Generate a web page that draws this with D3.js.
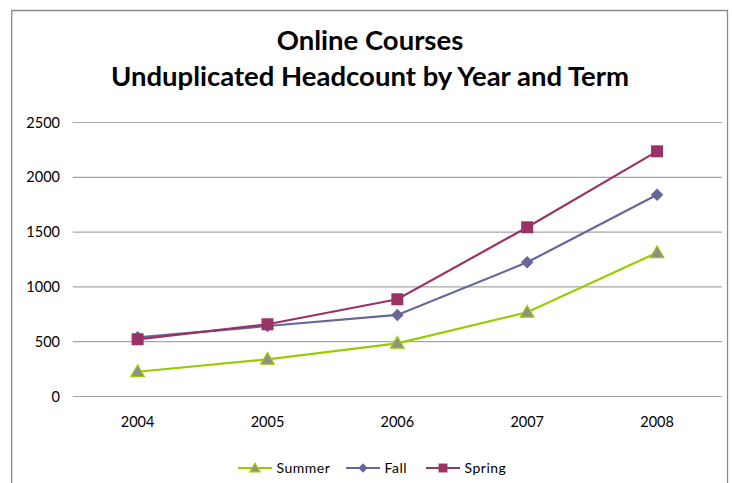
<!DOCTYPE html>
<html>
<head>
<meta charset="utf-8">
<script src="https://cdn.jsdelivr.net/npm/d3@7"></script>
<style>
  body { margin: 0; background: #fff; }
  svg { display: block; font-family: Lato, "Open Sans", sans-serif; }
</style>
</head>
<body>
<div id="chart"></div>
<script>
const years = ["2004", "2005", "2006", "2007", "2008"];
const summer = [226, 339, 485, 768, 1312];
const fall = [540, 643, 744, 1224, 1841];
const spring = [522, 659, 887, 1544, 2237];
const yTicks = [0, 500, 1000, 1500, 2000, 2500];
const titleLines = ["Online Courses", "Unduplicated Headcount by Year and Term"];

const series = [
  {name: "Summer", values: summer, color: "#99cc00", shape: "triangle"},
  {name: "Fall", values: fall, color: "#666699", shape: "diamond"},
  {name: "Spring", values: spring, color: "#993366", shape: "square"}
];

const width = 732, height = 483;
const margin = {top: 122.5, right: 10, bottom: 86.5, left: 72.7};

const svg = d3.select("#chart").append("svg")
    .attr("width", width)
    .attr("height", height);

// frame of the chart area
svg.append("path")
    .attr("fill", "none")
    .attr("stroke", "#8c8c8c")
    .attr("stroke-width", 1.3)
    .attr("d", `M11.7,${height + 2}V10.5H727.5V${height + 2}`);

const x = d3.scalePoint()
    .domain(years)
    .range([margin.left, width - margin.right])
    .padding(0.5);

const y = d3.scaleLinear()
    .domain([0, 2500])
    .range([height - margin.bottom, margin.top]);

// gridlines
svg.append("g")
  .selectAll("line")
  .data(yTicks)
  .join("line")
    .attr("x1", margin.left)
    .attr("x2", width - margin.right)
    .attr("y1", d => y(d))
    .attr("y2", d => y(d))
    .attr("stroke", "#a6a6a6")
    .attr("stroke-width", 1.2);

// y labels
svg.append("g")
  .selectAll("text")
  .data(yTicks)
  .join("text")
    .attr("x", 60)
    .attr("y", d => y(d))
    .attr("dy", "0.35em")
    .attr("text-anchor", "end")
    .attr("font-size", 14.5)
    .attr("fill", "#000")
    .text(d => d);

// x labels
svg.append("g")
  .selectAll("text")
  .data(years)
  .join("text")
    .attr("x", d => x(d))
    .attr("y", 422)
    .attr("dy", "0.35em")
    .attr("text-anchor", "middle")
    .attr("font-size", 14.5)
    .text(d => d);

// title
svg.append("g")
  .selectAll("text")
  .data(titleLines)
  .join("text")
    .attr("x", 370)
    .attr("y", (d, i) => 40 + i * 36)
    .attr("dy", "0.35em")
    .attr("text-anchor", "middle")
    .attr("font-size", 27.5)
    .attr("font-weight", "bold")
    .text(d => d);

const line = d3.line()
    .x((d, i) => x(years[i]))
    .y(d => y(d));

function marker(g, s, k) {
  if (s.shape === "triangle") {
    g.append("path")
        .attr("d", d3.symbol(d3.symbolTriangle, 78 * k)())
        .attr("transform", "translate(0,1)")
        .attr("fill", "#8e8e8e")
        .attr("stroke", s.color)
        .attr("stroke-width", 1.3);
  } else if (s.shape === "diamond") {
    g.append("path")
        .attr("d", d3.symbol(d3.symbolSquare, 78 * k)())
        .attr("transform", "rotate(45)")
        .attr("fill", s.color);
  } else {
    g.append("path")
        .attr("d", d3.symbol(d3.symbolSquare, 144 * k)())
        .attr("fill", s.color);
  }
}

series.forEach(s => {
  svg.append("path")
      .datum(s.values)
      .attr("fill", "none")
      .attr("stroke", s.color)
      .attr("stroke-width", 2.2)
      .attr("d", line);

  svg.append("g")
    .selectAll("g")
    .data(s.values)
    .join("g")
      .attr("transform", (d, i) => `translate(${x(years[i])},${y(d)})`)
      .each(function() { marker(d3.select(this), s, 1); });
});

// legend
const legendX = [238, 346, 426];
const legend = svg.append("g")
  .selectAll("g")
  .data(series)
  .join("g")
    .attr("transform", (d, i) => `translate(${legendX[i]},468)`);

legend.append("line")
    .attr("x1", 0)
    .attr("x2", 34)
    .attr("stroke", d => d.color)
    .attr("stroke-width", 2.2);

legend.append("g")
    .attr("transform", "translate(17,0)")
    .each(function(d) { marker(d3.select(this), d, 0.55); });

legend.append("text")
    .attr("x", 38.5)
    .attr("dy", "0.35em")
    .attr("font-size", 14)
    .attr("letter-spacing", 0.5)
    .text(d => d.name);
</script>
</body>
</html>
